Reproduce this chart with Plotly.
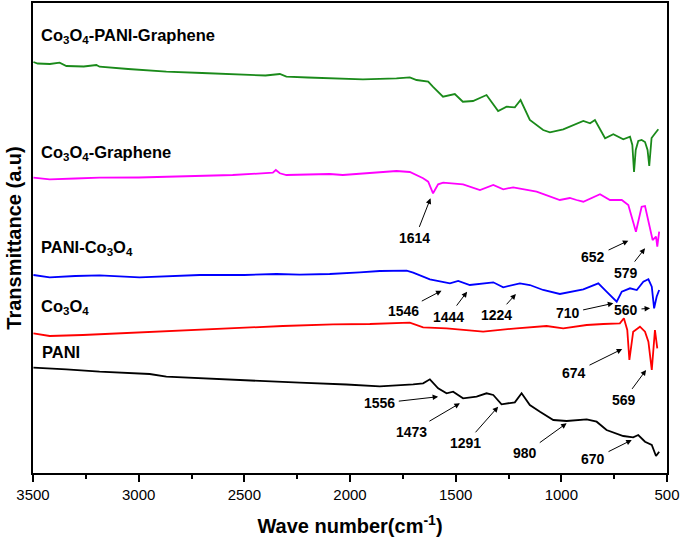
import plotly.graph_objects as go

# ---------------- data (wavenumber cm^-1, transmittance a.u.) ----------------
green_wn = [3498, 3478, 3420, 3374, 3342, 3260, 3200, 3185, 3050, 2869, 2700, 2555, 2400, 2332, 2301, 2200,
            2096, 1939, 1780, 1717, 1685, 1630, 1608, 1560, 1504, 1466, 1418, 1354, 1299, 1259, 1220, 1193,
            1149, 1086, 1054, 991, 896, 864, 841, 793, 754, 707, 675, 664, 656, 648, 636, 620, 604, 592, 584,
            576, 573, 555, 541]
green_t = [411, 409.5, 409, 410.3, 407, 406.5, 408, 406.3, 404, 401.3, 400, 398.7, 397.5, 399, 396.3, 395.5,
           394.7, 393.7, 394.7, 395.7, 393, 391.3, 386.3, 376.3, 379, 371.3, 372, 378, 362, 366.3, 365.7, 373,
           353, 343, 340.7, 343.7, 352, 349.7, 353, 334.7, 338.7, 333.7, 336.3, 328, 301, 323, 332, 333, 331,
           323, 307, 325, 335, 340, 343.7]

magenta_wn = [3498, 3421, 3300, 3185, 3000, 2869, 2700, 2555, 2365, 2351, 2332, 2301, 2200, 2096, 2034, 1891,
              1780, 1717, 1654, 1630, 1607, 1583, 1559, 1465, 1385, 1322, 1275, 1228, 1117, 1007, 960, 928,
              896, 817, 770, 714, 683, 647, 620, 604, 580, 568, 552, 546, 537]
magenta_t = [295.3, 293.7, 294.5, 295.3, 295.5, 296.3, 297, 298, 300.3, 303, 299.7, 298, 298.5, 299, 298, 300.3,
             302, 301, 294.7, 291.3, 279.7, 288.7, 290.3, 288.7, 283, 288, 283.7, 285.7, 281.3, 273, 275, 273,
             271.3, 278.7, 273, 273, 268, 241.3, 266.3, 267, 246.3, 233, 236.3, 226.3, 241.3]

blue_wn = [3498, 3421, 3300, 3185, 2996, 2850, 2711, 2500, 2348, 2238, 2096, 1954, 1859, 1732, 1701, 1622,
           1527, 1488, 1433, 1322, 1275, 1196, 1149, 1086, 1007, 896, 825, 786, 738, 714, 675, 643, 612, 588,
           572, 561, 549, 537]
blue_t = [198, 195.7, 197, 197.7, 195.7, 197, 198, 198, 199, 198.3, 199, 200.7, 202, 202.3, 200.3, 193.7,
          189.7, 192, 188, 190.7, 185.7, 189.7, 188, 183, 179, 183.7, 189.7, 181.3, 171.3, 181.3, 184.7, 183,
          191.3, 193.7, 186.3, 164.7, 176.3, 183]

red_wn = [3498, 3421, 3264, 3027, 2711, 2318, 2080, 1906, 1717, 1654, 1543, 1370, 1212, 1070, 991, 880, 801,
          723, 704, 688, 678, 668, 660, 628, 604, 588, 572, 557, 546]
red_t = [139.7, 137, 138, 140.3, 143.7, 147, 148.7, 149, 150.3, 145.7, 144.7, 141.3, 144.7, 147, 144.7, 148,
         149, 149.7, 154.7, 143, 113, 128, 141.3, 146.3, 141.3, 131.3, 103, 143, 124.7]

black_wn = [3498, 3342, 3185, 2948, 2869, 2554, 2238, 2017, 1859, 1701, 1654, 1622, 1583, 1543, 1512, 1465,
            1401, 1354, 1322, 1283, 1220, 1188, 1149, 1101, 1038, 975, 880, 833, 786, 707, 660, 636, 604, 572,
            552, 537]
black_t = [105.3, 103.7, 101.3, 99, 96.3, 93, 90.3, 88.5, 86.7, 88.7, 89.7, 93.7, 84.7, 79.7, 81.3, 74.7,
           76.3, 79.7, 78, 68.7, 70.7, 79.7, 68, 61.3, 53, 52, 53.7, 51.3, 43, 37, 35.7, 38, 31.3, 28, 17, 21.3]

series_names = ["Co<sub>3</sub>O<sub>4</sub>-PANI-Graphene", "Co<sub>3</sub>O<sub>4</sub>-Graphene",
                "PANI-Co<sub>3</sub>O<sub>4</sub>", "Co<sub>3</sub>O<sub>4</sub>", "PANI"]
series_colors = ["#1a8a1a", "#ff00ff", "#0000ff", "#ff0000", "#000000"]
label_pos_wn = [3470, 3470, 3470, 3470, 3465]
label_pos_t = [437, 320, 225, 166, 121]

# peak annotations: label, arrow-head (wn, t), text (wn, t)
peak_labels = ["1614", "652", "579", "1546", "1444", "1224", "710", "560", "674", "569",
               "1556", "1473", "1291", "980", "670"]
peak_head_wn = [1619, 683, 604, 1567, 1446, 1215, 754, 580, 712, 599, 1583, 1480, 1299, 975, 667]
peak_head_t = [274.7, 232.3, 224.7, 182.3, 181.3, 179, 169.7, 164.7, 124, 103, 76.3, 69.7, 66.3, 49.7, 33]
peak_text_wn = [1693, 849, 694, 1749, 1535, 1306, 970, 694, 939, 704, 1859, 1709, 1452, 1172, 849]
peak_text_t = [234.7, 215.7, 200.3, 162, 156.3, 157.7, 159.7, 163, 100.3, 73, 69.7, 41.3, 29.7, 19.7, 13.7]

x_ticks = [3500, 3000, 2500, 2000, 1500, 1000, 500]

# ---------------- figure ----------------
FONT = "Arial, Liberation Sans, sans-serif"
fig = go.Figure()
all_wn = [green_wn, magenta_wn, blue_wn, red_wn, black_wn]
all_t = [green_t, magenta_t, blue_t, red_t, black_t]
for wn, t, c in zip(all_wn, all_t, series_colors):
    fig.add_trace(go.Scatter(x=wn, y=t, mode="lines", line=dict(color=c, width=1.8), showlegend=False,
                             hoverinfo="skip"))

ann = []
for name, xw, yt in zip(series_names, label_pos_wn, label_pos_t):
    ann.append(dict(x=xw, y=yt, xref="x", yref="y", text="<b>" + name + "</b>", showarrow=False,
                    xanchor="left", yanchor="middle", font=dict(family=FONT, size=16.5, color="black")))
for lab, hx, hy, tx, ty in zip(peak_labels, peak_head_wn, peak_head_t, peak_text_wn, peak_text_t):
    ann.append(dict(x=hx, y=hy, xref="x", yref="y", ax=tx, ay=ty, axref="x", ayref="y",
                    text="<b>" + lab + "</b>", showarrow=True, arrowhead=2, arrowsize=1.1,
                    arrowwidth=1, arrowcolor="black", standoff=0, startstandoff=2,
                    font=dict(family=FONT, size=14, color="black")))

fig.update_layout(
    width=685, height=549,
    margin=dict(l=33, r=18, t=3, b=76, autoexpand=False),
    paper_bgcolor="white", plot_bgcolor="white",
    annotations=ann,
    font=dict(family=FONT, color="black"),
)
fig.update_xaxes(
    automargin=False,
    range=[3500, 500], tickvals=x_ticks, ticktext=[str(v) for v in x_ticks],
    ticks="outside", ticklen=7, tickwidth=1.5, tickcolor="black",
    minor=dict(dtick=250, tick0=500, ticks="outside", ticklen=4, tickwidth=1.5, tickcolor="black"),
    showline=True, linecolor="black", linewidth=2, mirror=True, showgrid=False, zeroline=False,
    tickfont=dict(family=FONT, size=15, color="black"),
    title=dict(text="<b>Wave number(cm<sup>-1</sup>)</b>", font=dict(family=FONT, size=20, color="black"),
               standoff=17),
)
fig.update_yaxes(
    automargin=False,
    range=[0, 470], showticklabels=False, ticks="", showline=True, linecolor="black", linewidth=2,
    mirror=True, showgrid=False, zeroline=False,
    title=dict(text="<b>Transmittance (a.u)</b>", font=dict(family=FONT, size=20, color="black"), standoff=4),
)
fig.write_html("out.html", config={"displayModeBar": False},
               post_script="document.body.style.margin='0';document.body.style.padding='0';")
